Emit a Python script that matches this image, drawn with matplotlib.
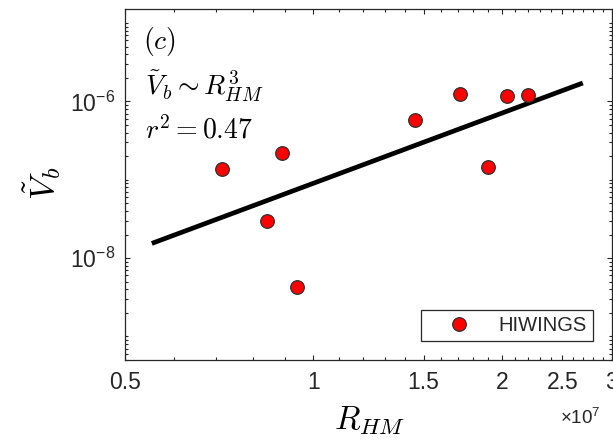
import numpy as np
import matplotlib
matplotlib.use("Agg")
import matplotlib.pyplot as plt
from matplotlib.ticker import FixedLocator, FixedFormatter, LogLocator, FuncFormatter, NullFormatter

plt.rcParams['font.family'] = ['Liberation Sans', 'DejaVu Sans']
plt.rcParams['mathtext.fontset'] = 'custom'
plt.rcParams['mathtext.rm'] = 'Liberation Sans'
plt.rcParams['mathtext.it'] = 'Liberation Sans:italic'
plt.rcParams['mathtext.bf'] = 'Liberation Sans:bold'

# data (R_HM in units of 1e7)
r_hm = [0.715, 0.891, 0.842, 0.941, 1.454, 1.716, 1.900, 2.037, 2.201]
v_b = [1.36e-7, 2.22e-7, 2.97e-8, 4.3e-9, 5.83e-7, 1.26e-6, 1.45e-7, 1.16e-6, 1.22e-6]
fit_r = [0.552, 2.695]
fit_v = [1.54e-8, 1.72e-6]
xticks = [0.5, 1, 1.5, 2, 2.5, 3]
xticklabels = ['0.5', '1', '1.5', '2', '2.5', '3']
yticks = [1e-8, 1e-6]

ink = '#262626'

fig = plt.figure(figsize=(6.13, 4.40), dpi=100)
ax = fig.add_axes([0.2038, 0.1818, 0.7945, 0.797])

ax.plot(fit_r, fit_v, color='k', lw=3.4, solid_capstyle='butt', zorder=2)
ax.plot(r_hm, v_b, 'o', ms=9.8, mfc='#ff0000', mec='#303030', mew=0.9,
        ls='none', label='HIWINGS', zorder=3)

ax.set_xscale('log')
ax.set_yscale('log')
ax.set_xlim(0.5, 3)
ax.set_ylim(5e-10, 1.5e-5)

ax.xaxis.set_major_locator(FixedLocator(xticks))
ax.xaxis.set_major_formatter(FixedFormatter(xticklabels))
ax.xaxis.set_minor_locator(FixedLocator(np.arange(0.5, 3.01, 0.1)))
ax.xaxis.set_minor_formatter(NullFormatter())

ax.yaxis.set_major_locator(FixedLocator(yticks))
ax.yaxis.set_major_formatter(FuncFormatter(lambda v, p: r'$\mathregular{10^{%d}}$' % round(np.log10(v))))
ax.yaxis.set_minor_locator(LogLocator(base=10, subs=np.arange(1, 10), numticks=40))
ax.yaxis.set_minor_formatter(NullFormatter())

ax.tick_params(which='both', direction='in', top=True, right=True, colors=ink,
               labelsize=16.5, width=0.8)
ax.tick_params(which='major', length=3.6)
ax.tick_params(axis='x', which='major', pad=8)
ax.tick_params(axis='y', which='major', pad=7)
ax.tick_params(which='minor', length=2.4)
for s in ax.spines.values():
    s.set_color(ink)
    s.set_linewidth(0.9)

ax.text(0.038, 0.888, r'$(c)$', transform=ax.transAxes, fontsize=20,
        math_fontfamily='cm', va='baseline', ha='left')
ax.text(0.041, 0.7556, r'$\tilde{V}_b \sim R^3_{HM}$', transform=ax.transAxes,
        fontsize=20, math_fontfamily='cm', va='baseline', ha='left')
ax.text(0.041, 0.632, r'$r^2 = 0.47$', transform=ax.transAxes, fontsize=20,
        math_fontfamily='cm', va='baseline', ha='left')

fig.text(370 / 613, 1 - 421 / 440, r'$R_{HM}$', fontsize=24, math_fontfamily='cm',
         ha='center', va='center')
fig.text(42 / 613, 1 - 183 / 440, r'$\tilde{V}_b$', fontsize=25, math_fontfamily='cm',
         ha='center', va='center', rotation=90)
fig.text(580.5 / 613, 1 - 418 / 440, r'$\times\mathregular{10^{7}}$', fontsize=13.5,
         color=ink, ha='center', va='center')

leg = ax.legend(loc='lower right', bbox_to_anchor=(0.9612, 0.055), borderaxespad=0,
                fontsize=14.5, fancybox=False, framealpha=1, edgecolor=ink,
                borderpad=0.3, handlelength=3.2, handletextpad=0.35)
leg.get_frame().set_linewidth(0.9)
for t in leg.get_texts():
    t.set_color(ink)

fig.savefig('out.png', dpi=100)
